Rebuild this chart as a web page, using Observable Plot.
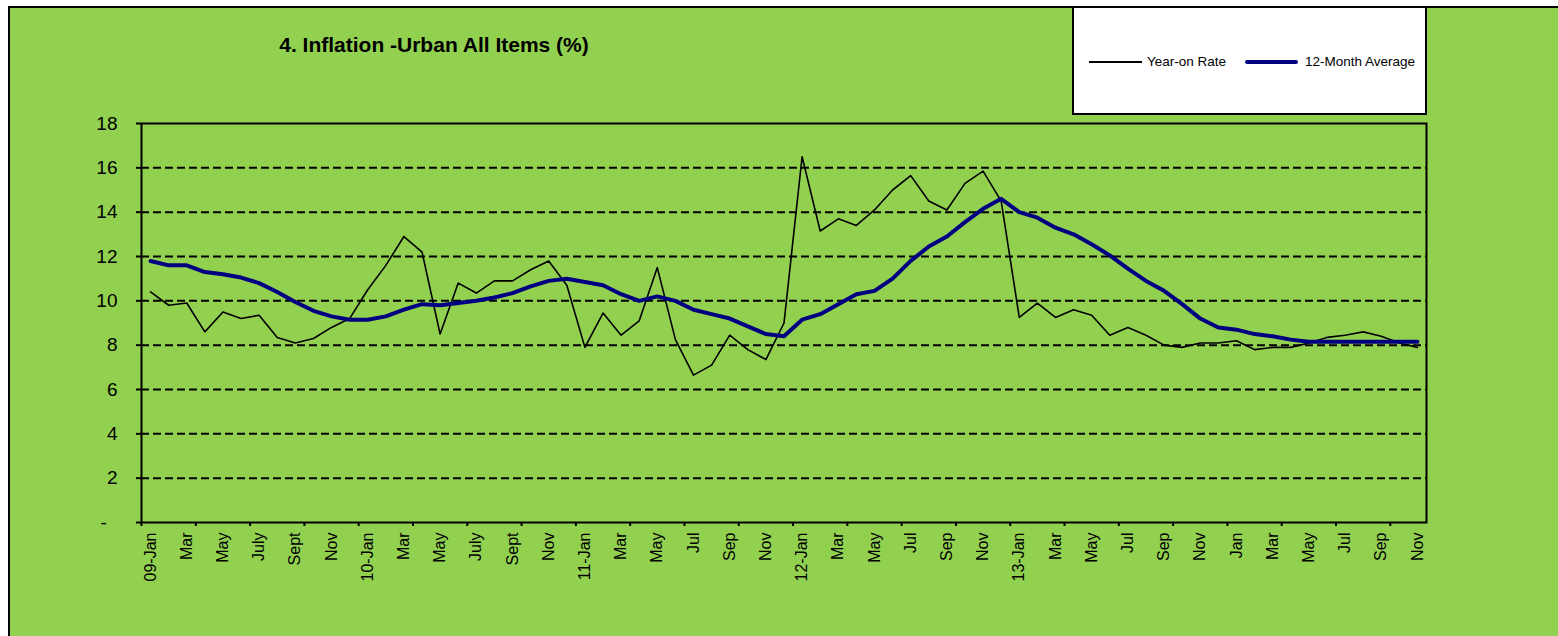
<!DOCTYPE html>
<html>
<head>
<meta charset="utf-8">
<script src="https://cdn.jsdelivr.net/npm/d3@7"></script>
<script src="https://cdn.jsdelivr.net/npm/@observablehq/plot@0.6"></script>
<style>
  html, body { margin: 0; padding: 0; background: #fff; }
  #wrap { position: relative; width: 1558px; height: 636px; overflow: hidden; font-family: "Liberation Sans", Arial, sans-serif; }
  #bg { position: absolute; left: 8px; top: 6px; width: 1600px; height: 700px; background: #92D050; border-left: 2px solid #000; border-top: 2px solid #000; }
  #chart { position: absolute; left: 0; top: 0; }
  #title { position: absolute; left: 234px; width: 400px; top: 34px; text-align: center; font-weight: bold; font-size: 21px; line-height: 21px; color: #000; }
  #legend { position: absolute; left: 1072px; top: 6px; width: 351px; height: 105px; background: #fff; border: 2px solid #000; }
  .lg-line { position: absolute; }
  .lg-text { position: absolute; font-size: 13.5px; line-height: 14px; color: #000; white-space: nowrap; }
</style>
</head>
<body>
<div id="wrap">
  <div id="bg"></div>
  <div id="chart"></div>
  <div id="title">4. Inflation -Urban All Items (%)</div>
  <div id="legend"></div>
</div>
<script>
// Year-on Rate, Jan 2009 .. Nov 2014 (monthly)
const yearOnRate = [
  10.4, 9.8, 9.9, 8.6, 9.5, 9.2, 9.35, 8.35, 8.1, 8.3, 8.8, 9.2,
  10.5, 11.6, 12.9, 12.2, 8.5, 10.8, 10.35, 10.9, 10.9, 11.4, 11.8, 10.7,
  7.9, 9.45, 8.45, 9.1, 11.5, 8.25, 6.65, 7.1, 8.45, 7.8, 7.35, 9.0,
  16.5, 13.15, 13.7, 13.4, 14.1, 15.0, 15.65, 14.5, 14.1, 15.3, 15.85, 14.5,
  9.25, 9.9, 9.25, 9.6, 9.35, 8.45, 8.8, 8.45, 8.0, 7.9, 8.1, 8.1,
  8.2, 7.8, 7.9, 7.9, 8.1, 8.35, 8.45, 8.6, 8.4, 8.1, 7.9
];
// 12-Month Average
const twelveMonthAverage = [
  11.8, 11.6, 11.6, 11.3, 11.2, 11.05, 10.8, 10.4, 9.95, 9.55, 9.3, 9.15,
  9.15, 9.3, 9.6, 9.85, 9.8, 9.9, 10.0, 10.15, 10.35, 10.65, 10.9, 11.0,
  10.85, 10.7, 10.3, 10.0, 10.2, 10.0, 9.6, 9.4, 9.2, 8.85, 8.5, 8.4,
  9.15, 9.4, 9.85, 10.3, 10.45, 11.0, 11.8, 12.45, 12.9, 13.55, 14.15, 14.6,
  14.0, 13.75, 13.3, 13.0, 12.55, 12.05, 11.45, 10.9, 10.45, 9.85, 9.2, 8.8,
  8.7, 8.5, 8.4, 8.25, 8.15, 8.15, 8.15, 8.15, 8.15, 8.15, 8.15
];
// Category labels shown every second month
const tickLabels = [
  "09-Jan", "Mar", "May", "July", "Sept", "Nov",
  "10-Jan", "Mar", "May", "July", "Sept", "Nov",
  "11-Jan", "Mar", "May", "Jul", "Sep", "Nov",
  "12-Jan", "Mar", "May", "Jul", "Sep", "Nov",
  "13-Jan", "Mar", "May", "Jul", "Sep", "Nov",
  "Jan", "Mar", "May", "Jul", "Sep", "Nov"
];
const yTicks = [0, 2, 4, 6, 8, 10, 12, 14, 16, 18];
const gridValues = [2, 4, 6, 8, 10, 12, 14, 16];
const seriesNames = ["Year-on Rate", "12-Month Average"];

const n = yearOnRate.length;
const yoData = yearOnRate.map((v, i) => ({i, v}));
const avgData = twelveMonthAverage.map((v, i) => ({i, v}));
const labelPositions = tickLabels.map((_, k) => k * 2);
const tickMarkPositions = d3.range(-0.5, n - 1, 3);

const chart = Plot.plot({
  width: 1558,
  height: 636,
  marginLeft: 141,
  marginRight: 132,
  marginTop: 123,
  marginBottom: 114,
  style: {background: "transparent", fontFamily: "'Liberation Sans', Arial, sans-serif", color: "#000", overflow: "visible"},
  x: {type: "linear", domain: [-0.5, n - 0.5]},
  y: {domain: [0, 18]},
  marks: [
    Plot.ruleY(gridValues, {stroke: "#000", strokeWidth: 2, strokeDasharray: "8,4"}),
    Plot.axisY({ticks: yTicks, tickFormat: d => d === 0 ? "-\u00a0\u00a0" : String(d), tickSize: 5, tickPadding: 19, fontSize: 19, strokeWidth: 2, strokeOpacity: 1, label: null}),
    Plot.axisX({ticks: labelPositions, tickFormat: d => tickLabels[d / 2], tickRotate: -90, tickSize: 0, tickPadding: 10, fontSize: 16, label: null}),
    Plot.axisX({ticks: tickMarkPositions, tickFormat: () => "", tickSize: 4, strokeWidth: 2, strokeOpacity: 1, label: null}),
    Plot.line(yoData, {x: "i", y: "v", stroke: "#000", strokeWidth: 1.6}),
    Plot.line(avgData, {x: "i", y: "v", stroke: "#000080", strokeWidth: 4}),
    Plot.frame({stroke: "#000", strokeWidth: 2})
  ]
});
document.getElementById("chart").appendChild(chart);

// Legend (inside white box)
const legend = document.getElementById("legend");
const items = [
  {name: seriesNames[0], color: "#000", width: 2, x0: 15, x1: 68, tx: 73},
  {name: seriesNames[1], color: "#000080", width: 4, x0: 171, x1: 224, tx: 231}
];
for (const it of items) {
  const ln = document.createElement("div");
  ln.className = "lg-line";
  ln.style.left = it.x0 + "px";
  ln.style.width = (it.x1 - it.x0) + "px";
  ln.style.top = (54 - it.width / 2) + "px";
  ln.style.height = it.width + "px";
  ln.style.background = it.color;
  if (it.width > 2) ln.style.borderRadius = "2px";
  legend.appendChild(ln);
  const tx = document.createElement("div");
  tx.className = "lg-text";
  tx.style.left = it.tx + "px";
  tx.style.top = (54 - 7) + "px";
  tx.textContent = it.name;
  legend.appendChild(tx);
}
</script>
</body>
</html>
